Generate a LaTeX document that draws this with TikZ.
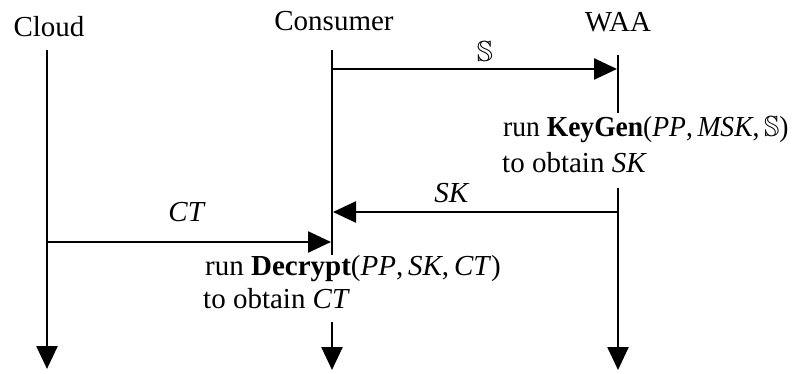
\documentclass[tikz,border=0pt]{standalone}
\usepackage{amssymb}
\usepackage{graphicx}
\usepackage{fontspec}
\setmainfont{Liberation Serif}
\usetikzlibrary{arrows.meta}
\begin{document}
\begin{tikzpicture}[x=1pt,y=-1pt,
  lbl/.style={inner sep=0pt, font=\fontsize{29}{34}\selectfont},
  life/.style={line width=2.5pt},
  msg/.style={line width=2.5pt,-{Triangle[length=23pt,width=21pt]}}]
\useasboundingbox (0,0) rectangle (800,374);
% titles
\node[lbl,anchor=base] (tcloud) at (49,37) {Cloud};
\node[lbl,anchor=base] (tcons) at (334,31) {Consumer};
\node[lbl,anchor=base] (twaa) at (618,32) {WAA};
% lifeline points
\coordinate (cl0) at (47,50);
\coordinate (cl1) at (47,369);
\coordinate (co0) at (332,50);
\coordinate (co1) at (332,255);
\coordinate (co2) at (332,322);
\coordinate (co3) at (332,370);
\coordinate (wa0) at (618,55);
\coordinate (wa1) at (618,113);
\coordinate (wa2) at (618,188);
\coordinate (wa3) at (618,370);
% message end points
\coordinate (s0) at (332,69);
\coordinate (s1) at (617,69);
\coordinate (k0) at (618,212);
\coordinate (k1) at (333,212);
\coordinate (c0) at (47,242);
\coordinate (c1) at (331,242);
% lifelines
\draw[msg] (cl0) -- (cl1);
\draw[life] (co0) -- (co1);
\draw[msg] (co2) -- (co3);
\draw[life] (wa0) -- (wa1);
\draw[msg] (wa2) -- (wa3);
% messages
\draw[msg] (s0) -- (s1);
\draw[msg] (k0) -- (k1);
\draw[msg] (c0) -- (c1);
% labels
\node[lbl] (ls) at (485,52) {$\mathbb{S}$};
\node[lbl,anchor=base] (lsk) at (452,203) {\textit{SK}};
\node[lbl,anchor=base] (lct) at (187,222) {\textit{CT}};
\node[lbl,anchor=base west] (kg1) at (503,137) {\scalebox{0.95}[1]{run \textbf{KeyGen}(\textit{PP},\,\textit{MSK},\,$\mathbb{S}$)}};
\node[lbl,anchor=base west] (kg2) at (502,173) {to obtain \textit{SK}};
\node[lbl,anchor=base west] (dc1) at (205,275) {run \textbf{Decrypt}(\textit{PP},\,\textit{SK},\,\textit{CT})};
\node[lbl,anchor=base west] (dc2) at (203,308) {to obtain \textit{CT}};
\end{tikzpicture}
\end{document}
